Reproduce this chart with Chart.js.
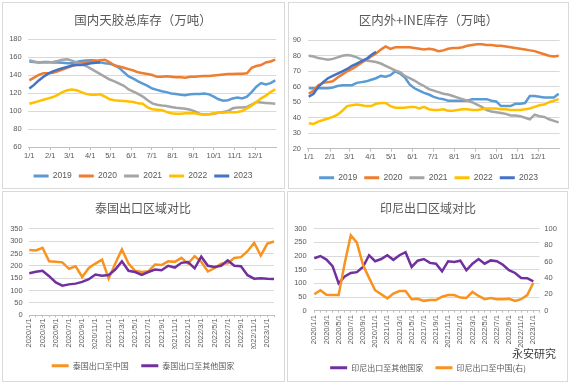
<!DOCTYPE html>
<html><head><meta charset="utf-8">
<script src="https://cdn.jsdelivr.net/npm/chart.js@4.4.1/dist/chart.umd.min.js"></script>
<style>
html,body{margin:0;padding:0;background:#fff;}
body{position:relative;width:572px;height:383px;overflow:hidden;}
.panel{position:absolute;border:1px solid #D9D9D9;box-sizing:border-box;background:#fff;}
canvas{position:absolute;}
#wm{position:absolute;left:512px;top:345px;font-family:'Noto Sans CJK SC',sans-serif;font-size:11px;color:#3a3a3a;text-shadow:0 0 2px #fff,0 0 2px #fff;white-space:nowrap;}
</style></head><body>
<div class="panel" style="left:2px;top:2px;width:283px;height:187px"></div>
<div class="panel" style="left:288px;top:2px;width:281px;height:187px"></div>
<div class="panel" style="left:2px;top:191px;width:283px;height:191px"></div>
<div class="panel" style="left:287px;top:191px;width:281px;height:191px"></div>
<canvas id="c1" width="282" height="190" style="left:2px;top:2px"></canvas>
<canvas id="c2" width="281" height="192" style="left:288px;top:2px"></canvas>
<canvas id="c3" width="282" height="190" style="left:2px;top:192px"></canvas>
<canvas id="c4" width="280" height="190" style="left:288px;top:192px"></canvas>
<div id="wm">永安研究</div>
<script>
// ---------- categories / tick labels ----------
const monthDays = [0,31,59,90,120,151,181,212,243,273,304,334];
const monthLabels = ['1/1','2/1','3/1','4/1','5/1','6/1','7/1','8/1','9/1','10/1','11/1','12/1'];
const yearNames = ['2019','2020','2021','2022','2023'];
const yearColors = ['#5B9BD5','#ED7D31','#A5A5A5','#FFC000','#4472C4'];

// ---------- 国内天胶总库存 (weekly) ----------
const rubber2019 = [155,154.5,154,154.5,154.5,154,154,153.5,153,153,154.5,155.5,156,156.5,156,154,153,152.5,151,148,143,138.5,136,133,130.5,128,125,123.5,122,121,119.5,119,118,117.5,118.5,119,119,119.5,118.5,116,113,111.5,112,114,115,114,116,121,127,131,129.5,131,134];
const rubber2020 = [134,137,140,142,142,142.5,144,146,148,150,151.5,153,154,155,155.5,156.5,157,154,150.5,149.5,148,146.5,145,143,142,141,140,138,138,138.5,138,137.5,137.5,137,138,138,138.5,139,139,139.5,140,140.5,141,141,141.5,141.5,142,148,150,151,154,155,157];
const rubber2021 = [156.5,155,154,154,154,154.5,155.5,157,157.5,156,154,152,150,147,144,141,138,135,133,130.5,128,124,121.5,119,116,112,108.5,107,106,105.5,104.5,103.5,103,102.5,101.5,99.5,97,96,96.5,97,98,99,100,103,104,104,104.5,107,110,109.5,109,108.5,108];
const rubber2022 = [108,109.5,111,112.5,114,115.5,118,121,123,124,123,121,119,118,118,118.5,116,113,112,111.5,111,110.5,110,108.5,108,104,102,101.5,101,99,97.5,97,97,97.5,97.5,97.5,96.5,96,96.5,97.5,98,98,98.5,98.5,99,100,103,106,110,114,117,121,124];
const rubber2023 = [125,129,134,138,141.5,144,146,147.5,149,150.5,151,151,152,153,153.5,154];

// ---------- 区内外+INE库存 (weekly) ----------
const ine2019 = [59,59,59,59,59,59.5,60.5,61,61,61,62.5,63,63.5,64.5,65.5,67,66.5,67.5,70,68.5,66,61.5,59,57.5,56,55,53.5,52.5,52,51,51,51,51,51,52,52,52,52,51,50.5,47.5,47.5,47.5,49,49,49.5,54,54,53.5,53,53,53,55.5];
const ine2020 = [55.5,57.5,61,62.5,63,63.5,66,68,70,71.5,73.5,75.5,77.5,79.5,81.5,84,86,84.5,85.5,85.5,85.5,85.5,85,84.5,84,84.5,84,83,83.5,84.5,85,85,85.5,86.5,87,87.5,87.5,87,87,86.5,86.5,86,85.5,85,84.5,84,83.5,83,82,81,80,79.5,80];
const ine2021 = [80,79.5,78.5,78,77.5,78,79,80,80.5,80,79,77.5,77,76.5,76,75,73.5,72,70.5,69.5,67,65.5,64,62,60.5,58.5,57.5,56.5,55.5,55,54,53,52,51,50,48.5,47,45,44,43.5,43,42.5,41.5,41.5,41,40,39,42,41,40.5,39,38,37];
const ine2022 = [36.5,36,37.5,38.5,39.5,40.5,42,44.5,47.5,48,48.5,48,47.5,47.5,49,49.5,49.5,47.5,46.5,46.5,46.5,47,47,46,47,45.5,45,45,45.5,44.5,44.5,45,45.5,45.5,45,45,45.5,46,46,46,45.5,45.5,45,45,45,45.5,46,47,48,48.5,50,51,52];
const ine2023 = [53.5,55.5,60,63,65.5,67,68.5,70,71.5,73.5,75,76.5,78,80.5,82.5];

// ---------- monthly categories ----------
const monthCats = ['2020/1/1','2020/2/1','2020/3/1','2020/4/1','2020/5/1','2020/6/1','2020/7/1','2020/8/1','2020/9/1','2020/10/1','2020/11/1','2020/12/1',
  '2021/1/1','2021/2/1','2021/3/1','2021/4/1','2021/5/1','2021/6/1','2021/7/1','2021/8/1','2021/9/1','2021/10/1','2021/11/1','2021/12/1',
  '2022/1/1','2022/2/1','2022/3/1','2022/4/1','2022/5/1','2022/6/1','2022/7/1','2022/8/1','2022/9/1','2022/10/1','2022/11/1','2022/12/1',
  '2023/1/1','2023/2/1'];

// ---------- 泰国出口区域对比 ----------
const thaiToChina = [264,262,273,218,216,214,188,198,155,191,209,225,148,209,266,209,180,175,178,205,203,218,216,232,209,239,216,177,190,208,210,232,235,259,293,241,290,298];
const thaiToOther = [170,176,180,158,133,120,125,128,135,146,165,160,163,185,218,180,175,163,175,185,182,200,193,212,215,190,237,200,195,200,222,200,198,162,148,150,148,147];

// ---------- 印尼出口区域对比 ----------
const indoToOther = [192,200,187,163,100,125,138,141,160,203,181,189,203,186,203,214,160,183,189,175,172,144,181,178,183,148,172,189,172,184,181,168,148,138,120,119,107,null];
const indoToChina = [20,25,19.5,19,19,58,92,83,56,40,25,20,15,21,24,24,14,14.5,12,13,13,17,19,19,16,15.5,23,18,14,15.5,14,14,14.5,12,14,19,34,null];

// ---------- styling ----------
const FONT = "'Liberation Sans','Noto Sans CJK SC',sans-serif";
const CJK = "'Noto Sans CJK SC','Liberation Sans',sans-serif";
const TXT = '#595959', GRID = '#D9D9D9', AXIS = '#BFBFBF';
const ORANGE = '#F7931E', PURPLE = '#7030A0';

function lineLegend(chart){
  const items = Chart.defaults.plugins.legend.labels.generateLabels(chart);
  items.forEach(it => { it.fillStyle = it.strokeStyle; it.lineWidth = 0; });
  return items;
}

function weeklyChart(id, title, series, yMin, yMax, step, g){
  const datasets = series.map((vals, i) => ({
    label: yearNames[i],
    data: vals.map((v, k) => ({x: k * 7, y: v})),
    borderColor: yearColors[i], backgroundColor: yearColors[i],
    borderWidth: 2.5, pointRadius: 0, tension: 0, order: series.length - i
  }));
  return new Chart(document.getElementById(id), {
    type: 'line', data: {datasets},
    options: {
      responsive: false, animation: false, devicePixelRatio: 1,
      layout: {padding: {top: 0, left: 0, right: 0, bottom: g.padBottom}},
      plugins: {
        title: {display: true, text: title, color: TXT, font: {family: CJK, size: 12.5, weight: 'normal'}, padding: {top: g.titleTop, bottom: g.titleBottom}},
        legend: {position: 'bottom', reverse: true, labels: {boxWidth: 15, boxHeight: 3, padding: 7, color: TXT, font: {family: FONT, size: 8.5}, generateLabels: lineLegend}},
        tooltip: {enabled: false}
      },
      scales: {
        x: {type: 'linear', min: -1.5, max: 365.5,
          afterBuildTicks: s => { s.ticks = monthDays.map(v => ({value: v})); },
          ticks: {autoSkip: false, maxRotation: 0, minRotation: 0, padding: 1, color: TXT, font: {family: FONT, size: 7.5}, callback: (v, i) => monthLabels[i]},
          grid: {drawOnChartArea: false, drawTicks: true, tickLength: 3, color: AXIS},
          border: {color: AXIS},
          afterFit: s => { s.height = g.xHeight; s.paddingRight = g.padRight; s.paddingLeft = 0; }
        },
        y: {min: yMin, max: yMax,
          ticks: {stepSize: step, padding: g.yPad, color: TXT, font: {family: FONT, size: 7.5}},
          grid: {color: GRID, drawTicks: false}, border: {display: false},
          afterFit: s => { s.width = g.yWidth; }
        }
      }
    }
  });
}

weeklyChart('c1', '国内天胶总库存（万吨）', [rubber2019, rubber2020, rubber2021, rubber2022, rubber2023], 60, 180, 20,
  {padBottom: 1.75, titleTop: 10.5, titleBottom: 11.5, xHeight: 17.75, padRight: 7.7, yWidth: 26.3, yPad: 6.6});
weeklyChart('c2', '区内外+INE库存（万吨）', [ine2019, ine2020, ine2021, ine2022, ine2023], 20, 90, 10,
  {padBottom: 2.05, titleTop: 11.2, titleBottom: 12.1, xHeight: 17.75, padRight: 9.3, yWidth: 19.7, yPad: 6.7});

function monthX(g){
  return {type: 'category', offset: false,
    ticks: {autoSkip: false, minRotation: 90, maxRotation: 90, padding: g.tickPad, color: TXT, font: {family: FONT, size: 7.5},
      callback: function(v, i){ return i % 2 === 0 ? this.getLabelForValue(v) : ''; }},
    grid: {drawOnChartArea: false, tickLength: 2, color: AXIS}, border: {color: AXIS},
    afterFit: s => { s.height = g.xHeight; s.paddingRight = g.padRight; s.paddingLeft = 0; }
  };
}

new Chart(document.getElementById('c3'), {
  type: 'line',
  data: {labels: monthCats, datasets: [
    {label: '泰国出口至中国', data: thaiToChina, borderColor: ORANGE, backgroundColor: ORANGE, borderWidth: 2.5, pointRadius: 0, tension: 0, order: 2},
    {label: '泰国出口至其他国家', data: thaiToOther, borderColor: PURPLE, backgroundColor: PURPLE, borderWidth: 2.5, pointRadius: 0, tension: 0, order: 1}
  ]},
  options: {
    responsive: false, animation: false, devicePixelRatio: 1,
    layout: {padding: {top: 0, left: 0, right: 0, bottom: 2.3}},
    plugins: {
      title: {display: true, text: '泰国出口区域对比', color: TXT, font: {family: CJK, size: 12, weight: 'normal'}, padding: {top: 8.8, bottom: 13.5}},
      legend: {position: 'bottom', reverse: true, labels: {boxWidth: 17, boxHeight: 3, padding: 12.6, color: TXT, font: {family: CJK, size: 8}, generateLabels: lineLegend}},
      tooltip: {enabled: false}
    },
    scales: {
      x: monthX({tickPad: 1, xHeight: 33.8, padRight: 10}),
      y: {min: 0, max: 350, ticks: {stepSize: 50, padding: 6.6, color: TXT, font: {family: FONT, size: 7.5}},
        grid: {color: GRID, drawTicks: false}, border: {display: false}, afterFit: s => { s.width = 27.3; }}
    }
  }
});

new Chart(document.getElementById('c4'), {
  type: 'line',
  data: {labels: monthCats, datasets: [
    {label: '印尼出口至其他国家', data: indoToOther, yAxisID: 'y', borderColor: PURPLE, backgroundColor: PURPLE, borderWidth: 2.5, pointRadius: 0, tension: 0, order: 2},
    {label: '印尼出口至中国(右)', data: indoToChina, yAxisID: 'y1', borderColor: ORANGE, backgroundColor: ORANGE, borderWidth: 2.5, pointRadius: 0, tension: 0, order: 1}
  ]},
  options: {
    responsive: false, animation: false, devicePixelRatio: 1,
    layout: {padding: {top: 0, left: 0, right: 0, bottom: 0.3}},
    plugins: {
      title: {display: true, text: '印尼出口区域对比', color: TXT, font: {family: CJK, size: 12, weight: 'normal'}, padding: {top: 8.8, bottom: 13.5}},
      legend: {position: 'bottom', reverse: true, labels: {boxWidth: 17, boxHeight: 3, padding: 12.3, color: TXT, font: {family: CJK, size: 8}, generateLabels: lineLegend}},
      tooltip: {enabled: false}
    },
    scales: {
      x: monthX({tickPad: 2.3, xHeight: 40.7, padRight: 0}),
      y: {position: 'left', min: 0, max: 300, ticks: {stepSize: 50, padding: 7.6, color: TXT, font: {family: FONT, size: 7.5}},
        grid: {color: GRID, drawTicks: false}, border: {display: false}, afterFit: s => { s.width = 26.3; }},
      y1: {position: 'right', min: 0, max: 100, ticks: {stepSize: 20, padding: 4.9, color: TXT, font: {family: FONT, size: 7.5}},
        grid: {drawOnChartArea: false, drawTicks: false}, border: {display: false}, afterFit: s => { s.width = 28.6; }}
    }
  }
});
</script>
</body></html>
